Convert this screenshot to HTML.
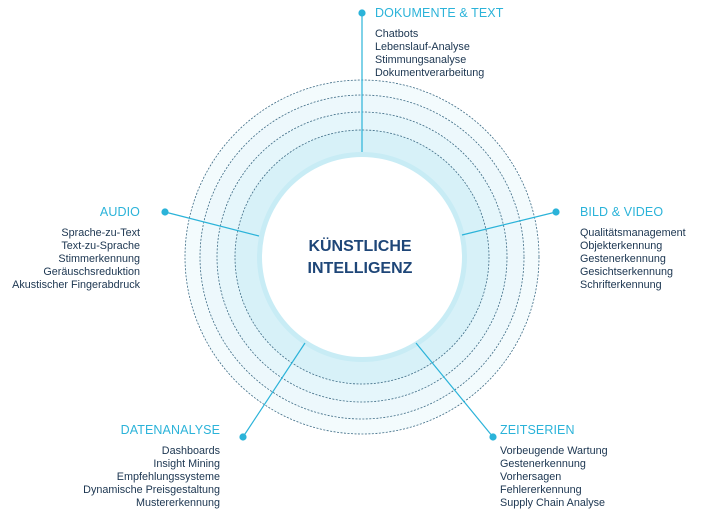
<!DOCTYPE html>
<html><head><meta charset="utf-8"><style>
body{margin:0;width:713px;height:517px;background:#fff;overflow:hidden;font-family:"Liberation Sans",sans-serif}
svg{position:absolute;left:0;top:0}
.t{position:absolute;font-size:12.5px;color:#2bb3d9;letter-spacing:0.1px}
.l{position:absolute;font-size:10.8px;line-height:13px;color:#1b3550}
.r{text-align:right}
</style></head><body>
<svg width="713" height="517">
<circle cx="362" cy="257" r="177" fill="#f3fbfd" stroke="#3d6b85" stroke-width="0.8" stroke-dasharray="2,1.5"/>
<circle cx="362" cy="257" r="162" fill="#edf8fc" stroke="#3d6b85" stroke-width="0.8" stroke-dasharray="2,1.5"/>
<circle cx="362" cy="257" r="145" fill="#e5f6fb" stroke="#3d6b85" stroke-width="0.8" stroke-dasharray="2,1.5"/>
<circle cx="362" cy="257" r="127" fill="#d7f1f8" stroke="#3d6b85" stroke-width="0.8" stroke-dasharray="2,1.5"/>
<circle cx="362" cy="257" r="105" fill="#c8ecf5"/>
<circle cx="362" cy="257" r="100" fill="#fff"/>
<g stroke="#2bb3d9" stroke-width="1.2" fill="#2bb3d9">
<line x1="362" y1="13" x2="362" y2="152"/><circle cx="362" cy="13" r="3"/>
<line x1="165" y1="212" x2="259" y2="236"/><circle cx="165" cy="212" r="3"/>
<line x1="556" y1="212" x2="462" y2="235"/><circle cx="556" cy="212" r="3"/>
<line x1="243" y1="437" x2="305" y2="343"/><circle cx="243" cy="437" r="3"/>
<line x1="493" y1="437" x2="416" y2="343"/><circle cx="493" cy="437" r="3"/>
</g>
<text x="360" y="251" text-anchor="middle" font-family="Liberation Sans" font-weight="bold" font-size="16" fill="#1e4678">KÜNSTLICHE</text>
<text x="360" y="273" text-anchor="middle" font-family="Liberation Sans" font-weight="bold" font-size="16" fill="#1e4678">INTELLIGENZ</text>
</svg>
<div class="t" style="left:375px;top:6px">DOKUMENTE &amp; TEXT</div>
<div class="l" style="left:375px;top:28px">Chatbots<br>Lebenslauf-Analyse<br>Stimmungsanalyse<br>Dokumentverarbeitung</div>
<div class="t" style="left:580px;top:205px">BILD &amp; VIDEO</div>
<div class="l" style="left:580px;top:227px">Qualitätsmanagement<br>Objekterkennung<br>Gestenerkennung<br>Gesichtserkennung<br>Schrifterkennung</div>
<div class="t r" style="right:573px;top:205px">AUDIO</div>
<div class="l r" style="right:573px;top:227px">Sprache-zu-Text<br>Text-zu-Sprache<br>Stimmerkennung<br>Geräuschsreduktion<br>Akustischer Fingerabdruck</div>
<div class="t r" style="right:493px;top:423px">DATENANALYSE</div>
<div class="l r" style="right:493px;top:445px">Dashboards<br>Insight Mining<br>Empfehlungssysteme<br>Dynamische Preisgestaltung<br>Mustererkennung</div>
<div class="t" style="left:500px;top:423px">ZEITSERIEN</div>
<div class="l" style="left:500px;top:445px">Vorbeugende Wartung<br>Gestenerkennung<br>Vorhersagen<br>Fehlererkennung<br>Supply Chain Analyse</div>
</body></html>
